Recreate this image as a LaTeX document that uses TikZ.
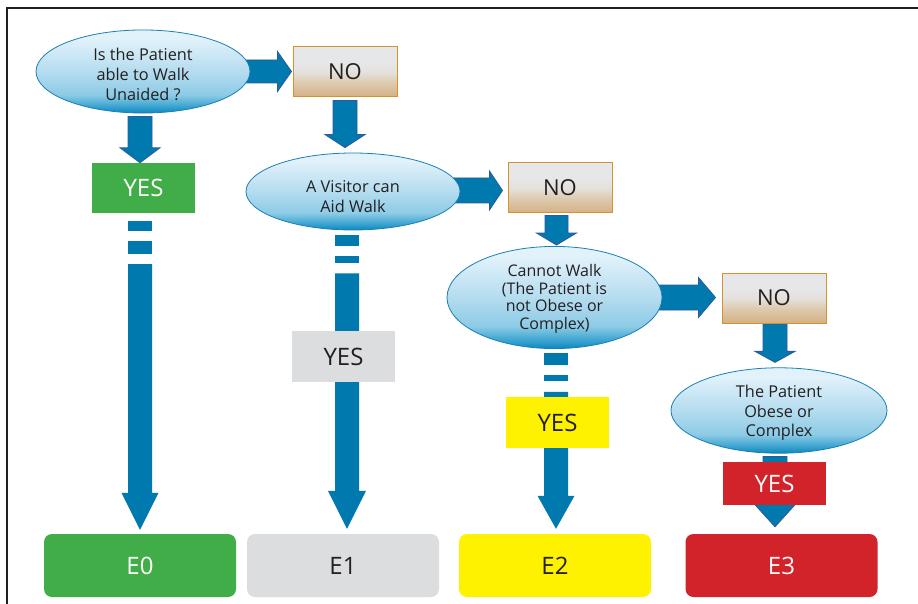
\documentclass[tikz,border=0pt]{standalone}
\usepackage{fontspec}
\setmainfont{Open Sans}
\usetikzlibrary{shapes.geometric,calc}
\definecolor{arrblue}{HTML}{0079AE}
\definecolor{arrline}{HTML}{2C5A9C}
\definecolor{ggreen}{HTML}{41AD49}
\definecolor{ggrey}{HTML}{DCDDDE}
\definecolor{gyellow}{HTML}{FFF200}
\definecolor{gred}{HTML}{D2232A}
\definecolor{noborder}{HTML}{D6922A}
\definecolor{ellborder}{HTML}{1A80B4}
\definecolor{elldark}{HTML}{0A87BD}
\definecolor{ellmid}{HTML}{3AA3D0}
\definecolor{ellmidb}{HTML}{8DCBE6}
\definecolor{ellmidc}{HTML}{B4DCEF}
\definecolor{elllight}{HTML}{E2F2FB}
\definecolor{notan}{HTML}{D4B185}
\definecolor{notanb}{HTML}{DCC6A6}
\definecolor{nogreyb}{HTML}{E4E1DC}
\definecolor{nogrey}{HTML}{E6E7E8}
\definecolor{txt}{HTML}{231F20}
\pgfdeclareverticalshading{ellshade}{100bp}{color(0bp)=(elldark); color(25bp)=(elldark); color(29bp)=(ellmid); color(36bp)=(ellmidb); color(50bp)=(ellmidc); color(70bp)=(elllight); color(100bp)=(elllight)}
\pgfdeclareverticalshading{noshade}{100bp}{color(0bp)=(notan); color(25bp)=(notan); color(37bp)=(notanb); color(50bp)=(nogreyb); color(60bp)=(nogrey); color(100bp)=(nogrey)}
\pgfdeclarelayer{bg}
\pgfsetlayers{bg,main}
\newcommand\lowstrut[1]{\rule{0pt}{#1}}
% down block arrow: #1 style, #2 start, #3 tip, #4 shaft half, #5 head half, #6 head length
\newcommand\dnblock[6]{%
  \path[#1] let \p1=(#2), \p2=(#3) in
    (\x1-#4pt,\y1) -- (\x1+#4pt,\y1) -- (\x1+#4pt,\y2+#6pt) -- (\x1+#5pt,\y2+#6pt)
    -- (\x1,\y2) -- (\x1-#5pt,\y2+#6pt) -- (\x1-#4pt,\y2+#6pt) -- cycle;}
% right block arrow
\newcommand\rtblock[6]{%
  \path[#1] let \p1=(#2), \p2=(#3) in
    (\x1,\y1+#4pt) -- (\x2-#6pt,\y1+#4pt) -- (\x2-#6pt,\y1+#5pt) -- (\x2,\y1)
    -- (\x2-#6pt,\y1-#5pt) -- (\x2-#6pt,\y1-#4pt) -- (\x1,\y1-#4pt) -- cycle;}
% dashed column: #1 start, #2 tip, #3 #4 dash1, #5 #6 dash2, #7 shaft start, #8 head length, #9 head half
\newcommand\dashcol[9]{%
  \fill[arrblue] let \p1=(#1) in (\x1-12pt,\y1-#3pt) rectangle (\x1+12pt,\y1-#4pt);
  \fill[arrblue] let \p1=(#1) in (\x1-12pt,\y1-#5pt) rectangle (\x1+12pt,\y1-#6pt);
  \path[arrblue,fill] let \p1=(#1), \p2=(#2) in
    (\x1-12pt,\y1-#7pt) -- (\x1+12pt,\y1-#7pt) -- (\x1+12pt,\y2+#8pt) -- (\x1+#9pt,\y2+#8pt)
    -- (\x1,\y2) -- (\x1-#9pt,\y2+#8pt) -- (\x1-12pt,\y2+#8pt) -- cycle;}
\tikzset{
  ques/.style={ellipse, draw=ellborder, line width=0.8pt, inner sep=0pt, shade, shading=ellshade,
    align=center, text=txt, font=\fontsize{16.3}{20}\selectfont, minimum width=214pt, minimum height=77pt},
  nobox/.style={rectangle, draw=noborder, line width=1pt, shade, shading=noshade, text=txt,
    font=\fontsize{22}{26}\selectfont, minimum width=104pt, minimum height=50pt, inner sep=0pt},
  yesbox/.style={rectangle, font=\fontsize{24}{28}\selectfont, minimum width=103pt, minimum height=50pt, inner sep=0pt},
  ebox/.style={rectangle, rounded corners=8pt, font=\fontsize{24}{28}\selectfont, minimum width=192pt, minimum height=63pt, inner sep=0pt},
  blk/.style={fill=arrblue, draw=arrline, line width=0.8pt, line join=miter},
}
\begin{document}
\begin{tikzpicture}[x=1pt,y=-1pt]
\useasboundingbox (0,0) rectangle (918,604);

% nodes
\node[ques] (q1) at (143,71.5) {\lowstrut{18.5pt}Is the Patient\\able to Walk\\Unaided ?};
\node[nobox] (no1) at (345,72) {NO};
\node[yesbox, fill=ggreen, text=white] (yes0) at (143.5,188) {YES};
\node[ques] (q2) at (353,191.5) {\lowstrut{21.5pt}A Visitor can\\Aid Walk};
\node[nobox] (no2) at (560,188) {NO};
\node[yesbox, fill=ggrey, text=txt, minimum height=51pt] (yes1) at (343.5,356.5) {YES};
\node[ques, minimum width=215pt, minimum height=79pt, font=\fontsize{16}{17.8}\selectfont] (q3) at (554.5,297.5) {\lowstrut{15pt}Cannot Walk\\(The Patient is\\not Obese or\\Complex)};
\node[nobox] (no3) at (774,298) {NO};
\node[yesbox, fill=gyellow, text=txt, minimum height=51pt] (yes2) at (557.5,422.5) {YES};
\node[ques, minimum width=216pt, font=\fontsize{16.3}{19.5}\selectfont] (q4) at (779,410.5) {\lowstrut{17.5pt}The Patient\\Obese or\\Complex};
\node[yesbox, fill=gred, text=white, minimum height=43pt] (yes3) at (774.5,483.5) {YES};
\node[ebox, fill=ggreen, text=white] (e0) at (140,565.5) {E0};
\node[ebox, fill=ggrey, text=txt] (e1) at (343,565.5) {E1};
\node[ebox, fill=gyellow, text=txt] (e2) at (555,565.5) {E2};
\node[ebox, fill=gred, text=white] (e3) at (781.5,565.5) {E3};

\begin{pgfonlayer}{bg}
\fill[white] (0,0) rectangle (918,604);
\draw[txt, line width=1.3pt] (918,8) -- (7,8) -- (7,604);
% right arrows to NO boxes
\rtblock{blk}{$(q1.east)+(-10,0)$}{$(no1.west)+(-1,0)$}{11.5}{20}{14}
\rtblock{blk}{$(q2.east)+(-10,-1)$}{$(no2.west)+(-5,0)$}{12.5}{19.5}{13}
\rtblock{blk}{$(q3.east)+(-10,0)$}{$(no3.west)+(-6,0)$}{12.5}{20}{17}
% down arrows
\dnblock{blk}{$(q1.south)+(-3,3)$}{yes0.north}{12}{20}{15}
\dnblock{blk}{$(no1.south)+(0,3)$}{$(q2.north)+(0,-5)$}{12}{20}{13}
\dnblock{blk}{$(no2.south)+(-3.5,2)$}{$(q3.north)+(0,-1)$}{11.5}{20}{12}
\dnblock{blk}{$(no3.south)+(1,0.5)$}{$(q4.north)+(0,-5)$}{12}{20}{11}
\dnblock{blk}{$(q4.south)+(-4,3)$}{$(e3.north)+(0,-7)$}{12}{20}{22}
% dashed columns
\dashcol{$(yes0.south)+(-3.5,0)$}{$(e0.north)+(0,-4)$}{8}{18}{28}{41}{51}{37}{18.5}
\dashcol{$(q2.south)+(-6,0)$}{$(e1.north)+(0,-5)$}{5}{16}{26}{33}{43}{38}{19}
\dashcol{$(q3.south)+(1.5,0)$}{$(e2.north)+(0,-5)$}{4}{16}{26}{32}{43}{33}{18.5}
\end{pgfonlayer}
\end{tikzpicture}
\end{document}
